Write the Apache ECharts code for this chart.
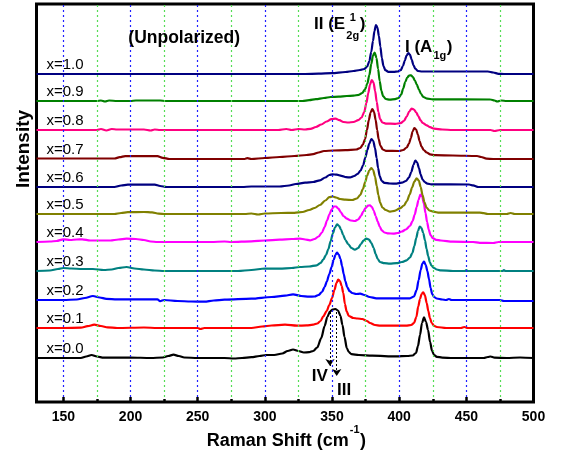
<!DOCTYPE html>
<html><head><meta charset="utf-8">
<script src="https://cdn.jsdelivr.net/npm/echarts@6/dist/echarts.min.js"></script>
<style>html,body{margin:0;padding:0;background:#fff}#c{width:563px;height:454px}</style>
</head><body><div id="c"></div>
<script>
const FONT = 'Arial, "Liberation Sans", sans-serif';
const xMin = 130, xMax = 500;
const yMin = -43, yMax = 355;
const majorTicks = [150, 200, 250, 300, 350, 400, 450, 500];
const minorTicks = [175, 225, 275, 325, 375, 425, 475];
const gridMajor = [150, 200, 250, 300, 350, 400, 450];
const gridMinor = [175, 225, 275, 325, 375, 425, 475];

const sampleLabels = ['x=0.0','x=0.1','x=0.2','x=0.3','x=0.4','x=0.5','x=0.6','x=0.7','x=0.8','x=0.9','x=1.0'];
const offsets = [1, 31, 59, 88, 117, 145, 172, 200, 229, 258, 285];

const spec00 = [[130,0],[150,0],[163,0],[167,1.5],[171,3],[175,1.5],[180,0.3],[200,0.5],[215,0],[224,0.5],[228,2],[232,3.3],[236,2],[240,0.5],[250,0],[270,0],[277,-0.5],[283,0],[290,0.8],[296,2],[301,3],[307,3],[313,4.5],[317,7],[321,8.5],[325,7],[329,5.5],[333,5.8],[336,7],[339,10.5],[342,20],[344.5,32],[346.5,41],[348.5,46.5],[350.5,48.5],[352.5,49],[354.5,47.5],[356.3,42],[357.8,33],[359.3,21],[361,10],[362.5,6],[364.5,3.8],[370,3],[380,2.3],[398,1.6],[406,2],[410,2.5],[412.5,5],[414,12],[415.5,23],[417,35],[418.5,40.6],[420,36],[421.5,28],[423,16],[424.5,7],[426,3],[428,1.2],[432,0.4],[440,0],[463,0],[466,1],[468,1.5],[471,0.3],[480,0],[490,0.5],[500,0]];
const spec01 = [[130,0],[150,0],[163,0.3],[168,1.8],[173,3.3],[178,2],[183,0.6],[190,0],[210,0.5],[220,0],[250,0],[252,-1],[255,0],[290,0],[298,1.5],[305,2.5],[315,3.3],[324,2.3],[331,2.6],[336,3.3],[339,4.5],[341.5,7],[343.5,11.6],[346,17],[348,23],[350,30],[351.8,38],[353.3,45],[354.6,48.3],[355.9,47],[357.2,42],[358.4,35],[359.6,24],[360.9,16.6],[362.5,12],[365.9,10],[369,9.5],[372.5,9],[376,7],[378.3,5],[382,3],[386,2.3],[405,2.3],[409,3],[411,5],[412.8,11],[414.2,21.6],[415.5,29],[416.7,34],[417.9,35.6],[419.1,33],[420.5,25],[421.7,17],[422.9,10],[424.2,5],[426,2.2],[428,1],[435,0],[446,0],[448.5,1],[451,0],[500,0]];
const spec02 = [[130,0],[150,0],[160,0.5],[166,2],[172,4],[177,2.5],[182,1.2],[190,0.7],[220,0.7],[222,-1.2],[225,0],[235,-1],[245,-1.5],[255,-1.7],[262,-0.5],[270,0.3],[290,1.3],[305,3],[315,4.4],[321,5.7],[327,4],[333,3.3],[337,3.5],[340,5],[342.5,8],[344.5,13],[346.1,18.3],[348,26],[349.7,33],[351.2,40],[352.5,45],[353.7,47.3],[355,45.5],[356.3,41],[357.5,34],[358.7,26],[359.9,19],[361.3,13],[363,9],[365,7],[368,6],[371,6.3],[374,5],[378,3],[383,1.7],[408,1.7],[411,3.5],[413,10],[414.5,20],[416,30],[417.3,36.5],[418.5,38.3],[419.8,35],[421,29],[422.2,21],[423.4,12],[424.6,6],[426,3],[428,1.5],[432,0.5],[435,0],[437,1],[439,0],[475,0],[478,-1],[500,-1]];
const spec03 = [[130,0],[140,0.5],[146,2],[150,3],[156,2.5],[164,2],[172,2],[180,1],[186,1.5],[191,3],[197,4],[203,2.5],[210,1.5],[218,0.5],[225,0],[280,0],[290,1],[300,2.5],[311,2.4],[320,3],[326,4],[333,4.5],[338.6,5.7],[341.5,8],[343.5,11.5],[345.5,16],[347.3,22],[349,30],[350.6,37.5],[352.2,43.5],[353.8,46.7],[355.3,45],[356.7,41.5],[358.3,36],[360,31],[362,27],[364.5,23],[367,21.4],[369.5,23],[371.5,27],[373.5,30.5],[375.5,32.4],[377.5,31.5],[379.3,28],[381,23],[382.5,17],[384,12],[385.7,9],[389,7.8],[393,7.4],[398,7.8],[402,9],[405.6,10.7],[408,13.5],[409.8,18],[411.3,25],[412.7,33],[414,40],[415.3,44.5],[416.6,43],[417.9,38],[419.2,30.7],[420.4,22],[421.6,15],[422.8,9],[424,5.5],[426,3],[428,1.5],[431,0.6],[440,0],[449,0],[450,1],[451,0],[477,0],[478,1],[479,0],[500,0]];
const spec04 = [[130,0],[140,0.5],[145,1],[150,2.7],[155,2],[160,2.5],[164,2.7],[170,1.5],[185,1.5],[191,2.5],[197,3.3],[204,3],[210,2],[215,0.5],[220,0],[260,0],[270,0.5],[275,0],[290,0.7],[300,1.5],[311,2.4],[320,3],[326,3.4],[330,2.5],[333.6,1.7],[337,3],[340,5.5],[342.5,9.5],[344.5,15],[346.3,21.5],[348,27.5],[349.7,32.5],[351.4,35.5],[353,35.5],[354.7,33.4],[356.5,30],[358.5,26],[361,23.4],[364,21.5],[367,21],[369.5,22.5],[371.5,26],[373.3,30.5],[375,34],[376.7,36.3],[378.2,36.7],[379.7,35],[381,31.5],[382.5,26],[384,20.5],[385.5,15.5],[387,11.7],[389,9.5],[392,8.6],[395.6,8.4],[399,9],[402,10.5],[405,12.5],[408,16],[410,21],[411.6,27.5],[413,35],[414.4,42],[415.8,47.3],[417.1,45.5],[418.4,38.5],[419.6,29],[420.8,20],[422,12.5],[423.3,7],[425,3.8],[427.5,2.2],[431,1.5],[440,0.3],[455,0],[460,-0.8],[470,-1],[474,0],[500,0]];
const spec05 = [[130,0],[188,0],[193,1],[198,1.8],[210,2],[216,1.6],[221,0.4],[226,0],[285,0],[290,0.5],[295,-0.5],[300,0.5],[312,1],[322,1.2],[328,2],[333,4],[337,6],[341,9],[345,13.5],[348,16.8],[350.5,17.5],[353,16.5],[356,15],[360,14.3],[365,14],[368.5,15.5],[371,19],[373,25],[374.7,32],[376.2,38.5],[377.7,43.5],[379.2,46],[380.6,44],[382,37.5],[383.3,28],[384.5,19],[385.8,11.5],[387.5,6.5],[390,4],[393.2,2.3],[396.5,3.2],[400.6,5.7],[403.5,8.5],[405.8,13],[407.8,19.5],[409.6,26.5],[411.3,32.5],[413,35.7],[414.6,33.5],[416,27],[417.4,19],[418.8,12],[420.3,6.5],[422.5,3.5],[425.4,2.3],[430,1.3],[460,1.3],[463,0.8],[466,0],[480,0],[483,1],[486,0],[500,0]];
const spec06 = [[130,0],[188,0],[193,1.5],[198,2.4],[218,2.4],[222,1],[227,0],[283,0],[290,0.5],[311,0.5],[318,1.5],[323,3],[330,4.3],[336,5],[341,6.7],[345,9.5],[348,12],[350.5,12.7],[353.5,12.3],[357,11.2],[360.5,9.8],[363.5,9.6],[366.5,11],[369,13],[371.3,16.5],[373.2,22],[374.8,29.5],[376.3,37],[377.8,43.5],[379.3,48],[380.7,46],[382,39],[383.2,29],[384.3,19],[385.5,11],[387,6],[389,4.2],[393,3.5],[398,3.4],[402,4.3],[405,6],[407.3,9.5],[409,15],[410.6,22],[412,26.5],[413.4,24.5],[414.7,19],[416,12.5],[417.4,7.5],[419,5],[421,3.4],[424,2.6],[452,2.5],[455,1.6],[459,0],[500,0]];
const spec07 = [[130,0.5],[188,0.5],[192,1.8],[196,2.9],[220,2.9],[224,1.2],[229,0],[285,0],[287,0.8],[290,0],[300,1],[311,2],[322,3],[331,4],[336,4.8],[340,6.5],[344,8],[351,8.5],[360,8.8],[368,9.5],[371,11],[373,14.5],[374.6,20],[376,29],[377.4,39],[378.7,46.5],[380,50],[381.3,47],[382.5,39],[383.6,29],[384.7,20],[386,13.5],[387.8,9.5],[390,8.2],[400,8],[403,9],[405.6,11.5],[407.3,15.5],[408.7,21],[410,27.5],[411.3,31],[412.6,29.5],[413.9,24.5],[415.2,18],[416.6,12.5],[418.3,9],[420.5,6.5],[423,4.6],[427,3.8],[440,3.5],[458,3],[461,2],[465,0.3],[470,0],[500,0]];
const spec08 = [[130,0],[175,0],[178,1],[182,-0.5],[186,1],[190,0.5],[210,0.5],[215,-0.5],[218,0.5],[222,0],[310,0],[316,1],[320,0],[325,1],[330,0.5],[334,1.2],[338,3],[342,5.5],[346,8.5],[349.5,10.8],[352.6,11.4],[355.5,9.8],[358.5,8],[362,7.5],[366,8],[369.5,9.8],[372,12.5],[374,18],[375.6,27],[377,37],[378.3,45.5],[379.6,50],[380.9,47.5],[382.1,39],[383.3,28],[384.5,18],[385.8,11],[387.5,7.5],[390,6.4],[397,6.2],[401,6.8],[403.5,9],[405.6,13.5],[407.5,18.5],[409.3,21.4],[411,20.5],[412.7,17.5],[414.2,14],[415.8,10],[417.5,7],[420.5,4.7],[423,2.8],[426,1.4],[432,0.5],[440,0],[468,0],[471,-1],[475,0],[500,0]];
const spec09 = [[130,0],[175,0],[178,0.5],[181,-0.5],[184,0.5],[190,0],[200,0],[204,0.5],[222,0.5],[226,0],[328,0],[333,0.8],[338,1.8],[344,3],[349,4],[355,4.3],[361,5],[366,5.3],[370,6.2],[372.5,8],[374.5,11.5],[376.3,17.5],[377.8,26],[379.2,37],[380.5,45.5],[381.8,48.4],[383.1,43],[384.3,32],[385.5,20],[386.7,10.5],[388,5],[390,2],[393,1.4],[397,1.8],[399.5,3],[401.5,6.5],[403,12.5],[404.5,19],[406,23.5],[407.5,25.5],[408.8,25.7],[410.2,24],[411.7,20.5],[413.1,16.5],[414.7,11.5],[416.3,7],[418,4],[421,2.3],[425,1.7],[468,1.5],[471,0.5],[473,-0.5],[476,0.5],[480,0],[500,0]];
const spec10 = [[130,0],[330,0],[340,0.3],[349.8,0.8],[360,2],[366,3],[370.8,4],[374,5],[376.2,7.5],[377.8,13],[379.2,22],[380.5,33],[381.6,43],[382.7,49],[383.8,46.5],[384.9,38],[386,27.5],[387.1,16],[388.3,8],[389.7,3.8],[392,2.2],[396,2.1],[399,2.5],[401.2,4],[402.8,8],[404.2,13.5],[405.5,18.5],[406.8,21],[408,19.5],[409.3,14.5],[410.6,9],[412,5.3],[414,3],[417,2.5],[466,2.5],[470,1.5],[474,0.2],[478,0],[500,0]];

const spectra = [spec00, spec01, spec02, spec03, spec04, spec05, spec06, spec07, spec08, spec09, spec10];
const colors = ['#000000','#ff0000','#0000ff','#008080','#ff00ff','#808000','#000080','#800000','#ff0080','#008000','#000080'];

// mode-assignment arrows: [x, from, to]
const arrowIV = [348.5, 46, -8];
const arrowIII = [353.5, 46, -18];

const chart = echarts.init(document.getElementById('c'), null, {renderer: 'canvas'});

const series = spectra.map((s, i) => ({
  type: 'line',
  name: sampleLabels[i],
  data: s.map(p => [p[0], p[1] + offsets[i]]),
  showSymbol: false, symbol: 'none',
  smooth: 0.3, smoothMonotone: 'x',
  lineStyle: {color: colors[i], width: 2.2},
  itemStyle: {color: colors[i]},
  z: 3, silent: true, animation: false
}));

series[0].markLine = {
  silent: true, animation: false, symbol: ['none', 'arrow'], symbolSize: 7,
  label: {show: false},
  lineStyle: {type: [2, 2], color: '#000', width: 1},
  itemStyle: {color: '#000'},
  data: [
    [{coord: [arrowIV[0], arrowIV[1] + offsets[0]]}, {coord: [arrowIV[0], arrowIV[2] + offsets[0]]}],
    [{coord: [arrowIII[0], arrowIII[1] + offsets[0]]}, {coord: [arrowIII[0], arrowIII[2] + offsets[0]]}]
  ]
};

function helper(values, y0, y1, style, z) {
  return {
    type: 'line', data: [[xMin, yMin], [xMax, yMin]], z: z, silent: true, animation: false,
    showSymbol: false, symbol: 'none', lineStyle: {opacity: 0, width: 0},
    markLine: {
      silent: true, animation: false, symbol: 'none', label: {show: false},
      lineStyle: style,
      data: values.map(v => [{coord: [v, y0]}, {coord: [v, y1]}])
    }
  };
}
series.push(helper(gridMajor, yMin, yMax, {color: '#2020ff', type: [2, 3], width: 1.2}, 1));
series.push(helper(gridMinor, yMin, yMax, {color: '#55dd55', type: [2, 3], width: 1.2}, 1));
series.push(helper(majorTicks, yMin, yMin + 5, {color: '#000', type: 'solid', width: 2.5}, 4));
series.push(helper(minorTicks, yMin, yMin + 3, {color: '#000', type: 'solid', width: 2.5}, 4));

const option = {
  animation: false,
  backgroundColor: '#fff',
  grid: {left: 36.5, right: 29.5, top: 4, bottom: 52, show: true, borderColor: '#000', borderWidth: 3, backgroundColor: 'transparent'},
  xAxis: {
    type: 'value', min: xMin, max: xMax,
    axisLine: {show: false},
    splitLine: {show: false},
    axisTick: {show: false},
    axisLabel: {customValues: majorTicks, fontSize: 14, fontWeight: 'bold', color: '#000', fontFamily: FONT, margin: 8}
  },
  yAxis: {type: 'value', min: yMin, max: yMax, show: false},
  series: series
};
chart.setOption(option);

const mctx = document.createElement('canvas').getContext('2d');
function tw(text, size, bold) {
  mctx.font = (bold ? 'bold ' : '') + size + 'px ' + FONT;
  return mctx.measureText(text).width;
}
function txt(text, x, y, size, bold, align, extra) {
  return Object.assign({
    type: 'text', x: x, y: y, silent: true, z: 10,
    style: {text: text, fontSize: size, fontWeight: bold ? 'bold' : 'normal', fontFamily: FONT, fill: '#000', align: align || 'left', verticalAlign: 'middle'}
  }, extra || {});
}

const els = [];
offsets.forEach((off, i) => {
  const p = chart.convertToPixel({xAxisIndex: 0, yAxisIndex: 0}, [xMin, off]);
  els.push(txt(sampleLabels[i], 46.5, p[1] - 9.5, 15, false));
});

els.push(txt('(Unpolarized)', 184.2, 38.3, 17.5, true, 'center'));
els.push(txt('Intensity', 24, 149, 19, true, 'center', {rotation: Math.PI / 2}));

// II (E^1_2g)
{
  const x0 = 314, cy = 24.2;
  const e = x0 + tw('II (E', 17, true);
  els.push(txt('II (E', x0, cy, 17, true));
  els.push(txt('1', e + 4.5, 17.5, 11, true));
  els.push(txt('2g', e + 1.2, 35.5, 11, true));
  const end = Math.max(e + 4.5 + tw('1', 11, true), e + 1.2 + tw('2g', 11, true));
  els.push(txt(')', end + 0.5, cy, 17, true));
}
// I (A_1g)
{
  const x0 = 405, cy = 47.5;
  const e = x0 + tw('I (A', 17, true);
  els.push(txt('I (A', x0, cy, 17, true));
  els.push(txt('1g', e + 1, 56, 11, true));
  els.push(txt(')', e + 1.5 + tw('1g', 11, true), cy, 17, true));
}
// IV, III
els.push(txt('IV', 311.7, 376.7, 17, true));
els.push(txt('III', 337, 390.8, 17, true));
// x axis title
{
  const x0 = 206.7, cy = 440.8;
  const e = x0 + tw('Raman Shift (cm', 18, true);
  els.push(txt('Raman Shift (cm', x0, cy, 18, true));
  els.push(txt('-1', e + 1, 430, 11, true));
  els.push(txt(')', e + 1.5 + tw('-1', 11, true), cy, 18, true));
}

chart.setOption({graphic: {elements: els}});
</script>
</body></html>
